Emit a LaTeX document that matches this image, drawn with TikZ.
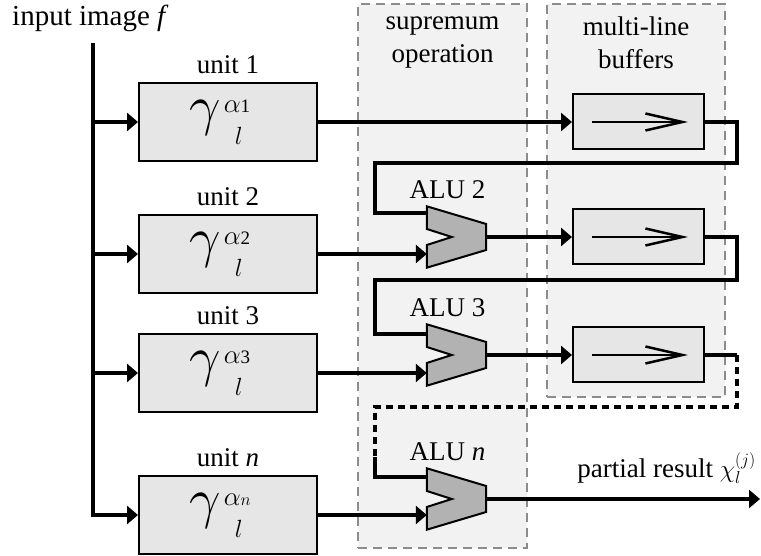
\documentclass[tikz,border=0pt]{standalone}
\usepackage{fontspec}
\setmainfont{Liberation Serif}
\usetikzlibrary{arrows.meta,positioning,calc}
\definecolor{panelgray}{RGB}{242,242,242}
\definecolor{boxgray}{RGB}{230,230,230}
\definecolor{alugray}{RGB}{178,178,178}
\definecolor{dashgray}{RGB}{140,140,140}
\newcommand{\gammaop}[1]{\scalebox{2.25}{$\gamma$}\kern3pt\rlap{\raisebox{12pt}{\scalebox{1.08}{$\alpha$}\fontsize{19}{19}\selectfont #1}}\raisebox{-20pt}{\kern11pt$l$}\kern24pt}

\begin{document}
\begin{tikzpicture}[x=1pt, y=1pt,
    font=\fontsize{27}{33}\selectfont,
    unit/.style={rectangle, draw, line width=2pt, fill=boxgray, minimum width=178pt, minimum height=78pt, inner sep=0pt},
    buffer/.style={rectangle, draw, line width=2pt, fill=boxgray, minimum width=131pt, minimum height=55pt, inner sep=0pt},
    alu/.style={rectangle, minimum width=59pt, minimum height=61pt, inner sep=0pt},
    alushape/.style={draw, line width=2pt, fill=alugray},
    panel/.style={draw=dashgray, fill=panelgray, line width=1.2pt, dash pattern=on 9pt off 6pt, inner sep=0pt},
    wire/.style={line width=3.5pt},
    feed/.style={wire, -{Triangle[length=11pt, width=18pt]}},
    shiftarrow/.style={line width=2.5pt, -{Straight Barb[length=37pt, width=17pt]}},
    label/.style={inner sep=0pt}
]

\useasboundingbox (0,0) rectangle (761,556);

% Panels
\node (suppanel) [panel, minimum width=169pt, minimum height=544pt] at (442.5,280) {};
\node [label, align=center, below=13pt of suppanel.north] {supremum\\operation};
\node (bufpanel) [panel, minimum width=178pt, minimum height=393pt] at (636,355.5) {};
\node [label, align=center, below=13pt of bufpanel.north] {multi-line\\buffers};

% Input
\node (inlabel) [label, anchor=west, font=\fontsize{29}{33}\selectfont] at (12,538) {input image \textit{f}};
\coordinate (trunk) at (93,513);

% Units
\node (unit1) [unit] at (228,434) {\gammaop{1}};
\node [label, above=8pt of unit1] {unit 1};
\node (unit2) [unit] at (228,302) {\gammaop{2}};
\node [label, above=8pt of unit2] {unit 2};
\node (unit3) [unit] at (228,183) {\gammaop{3}};
\node [label, above=8pt of unit3] {unit 3};
\node (unitn) [unit] at (228,41) {\gammaop{$n$}};
\node [label, above=8pt of unitn] {unit \textit{n}};

% ALUs
\node (alu2) [alu] at (456.5,319) {};
\node [label, above=7pt of alu2, xshift=-9pt] {ALU 2};
\node (alu3) [alu] at (456.5,201) {};
\node [label, above=7pt of alu3, xshift=-9pt] {ALU 3};
\node (alun) [alu] at (456.5,57) {};
\node [label, above=7pt of alun, xshift=-9pt] {ALU \textit{n}};

% Buffers
\node (buf1) [buffer] at (638.5,434) {};
\node (buf2) [buffer] at (638.5,319) {};
\node (buf3) [buffer] at (638.5,201) {};
\draw[shiftarrow] ($(buf1.west)+(20,0)$) -- ($(buf1.east)+(-17,0)$);
\draw[shiftarrow] ($(buf2.west)+(20,0)$) -- ($(buf2.east)+(-17,0)$);
\draw[shiftarrow] ($(buf3.west)+(20,0)$) -- ($(buf3.east)+(-17,0)$);

% Loop points
\coordinate (turn1) at (737,393);
\coordinate (back1) at (375,393);
\coordinate (turn2) at (737,276);
\coordinate (back2) at (375,276);
\coordinate (turn3) at (737,201);
\coordinate (turn3b) at (737,149);
\coordinate (back3) at (375,149);
\coordinate (split3) at (375,99);
\coordinate (alu2in) at ($(alu2.west)+(0,24)$);
\coordinate (alu3in) at ($(alu3.west)+(0,21)$);
\coordinate (alunin) at ($(alun.west)+(0,22)$);
\coordinate (out) at (760,57);

% Input fan-out
\draw[feed] (trunk) |- (unitn.west);
\draw[feed] (trunk |- unit1.west) -- (unit1.west);
\draw[feed] (trunk |- unit2.west) -- (unit2.west);
\draw[feed] (trunk |- unit3.west) -- (unit3.west);

% Datapath
\draw[feed] (unit1.east) -- (buf1.west);
\draw[wire] (buf1.east) -| (turn1) -- (back1) |- (alu2in);
\draw[feed] (unit2.east) -- (unit2.east -| alu2.west);
\draw[feed] (alu2.east) -- (buf2.west);
\draw[wire] (buf2.east) -| (turn2) -- (back2) |- (alu3in);
\draw[feed] (unit3.east) -- (unit3.east -| alu3.west);
\draw[feed] (alu3.east) -- (buf3.west);
\draw[wire] (buf3.east) -- (turn3);
\draw[wire, dash pattern=on 7pt off 5pt] (turn3) -- (turn3b) -- (back3) -- (split3);
\draw[wire] (split3) |- (alunin);
\draw[feed] (unitn.east) -- (unitn.east -| alun.west);
\draw[feed] (alun.east) -- (out);
\node (result) [label, anchor=base east] at ($(out)+(-4,21)$) {partial result $\chi^{(j)}_{l}$};

% ALU shapes
\draw[alushape] (alu2.north west) -- ($(alu2.east)+(0,13)$) -- ($(alu2.east)+(0,-13)$) -- (alu2.south west) -- ($(alu2.west)+(0,-8)$) -- ($(alu2.west)+(25,0)$) -- ($(alu2.west)+(0,8)$) -- cycle;
\draw[alushape] (alu3.north west) -- ($(alu3.east)+(0,13)$) -- ($(alu3.east)+(0,-13)$) -- (alu3.south west) -- ($(alu3.west)+(0,-8)$) -- ($(alu3.west)+(25,0)$) -- ($(alu3.west)+(0,8)$) -- cycle;
\draw[alushape] (alun.north west) -- ($(alun.east)+(0,13)$) -- ($(alun.east)+(0,-13)$) -- (alun.south west) -- ($(alun.west)+(0,-8)$) -- ($(alun.west)+(25,0)$) -- ($(alun.west)+(0,8)$) -- cycle;

\end{tikzpicture}
\end{document}
